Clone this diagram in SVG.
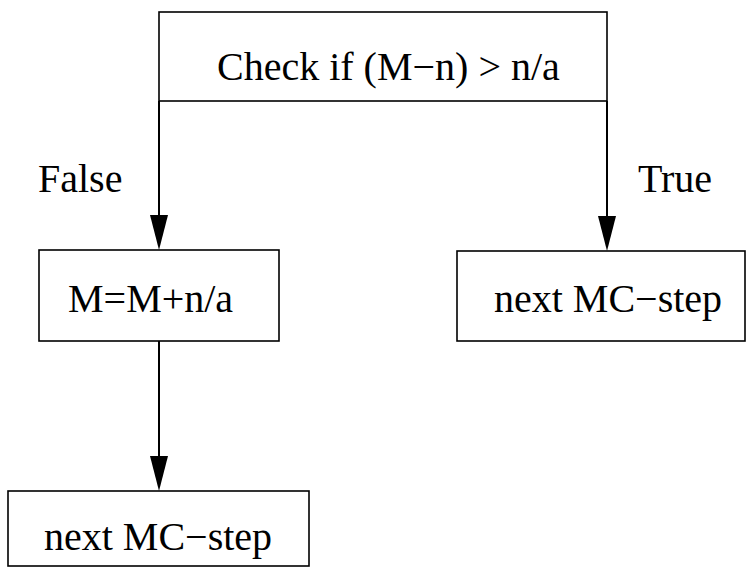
<svg xmlns="http://www.w3.org/2000/svg" width="747" height="576" viewBox="0 0 747 576" font-family="Liberation Serif, serif" style="font-family: 'Liberation Serif', serif">
  <style>
    .box { fill: #ffffff; stroke: #000000; stroke-width: 1.6; }
    .edge { stroke: #000000; stroke-width: 2; fill: none; }
    .head { fill: #000000; }
  </style>
  <rect width="747" height="576" fill="#ffffff"/>

  <g id="connectors">
    <line class="edge" x1="159" y1="101" x2="159" y2="216"/>
    <polygon class="head" points="150,215 168,215 159,250"/>
    <line class="edge" x1="607" y1="101" x2="607" y2="217"/>
    <polygon class="head" points="598,216 616,216 607,251"/>
    <line class="edge" x1="159" y1="341" x2="159" y2="457"/>
    <polygon class="head" points="150,456 168,456 159,491"/>
    <text x="38" y="192" style="font-family: 'Liberation Serif', serif; font-size: 40px">False</text>
    <text x="638" y="192" style="font-family: 'Liberation Serif', serif; font-size: 40px">True</text>
  </g>

  <g id="check">
    <rect class="box" x="159" y="12" width="448" height="89"/>
    <text x="217" y="80" style="font-family: 'Liberation Serif', serif; font-size: 40px">Check if (M&#8722;n) &#62; n/a</text>
  </g>

  <g id="increment">
    <rect class="box" x="39" y="250" width="240" height="91"/>
    <text x="68" y="312" style="font-family: 'Liberation Serif', serif; font-size: 40px">M=M+n/a</text>
  </g>

  <g id="next-true">
    <rect class="box" x="457" y="251" width="288" height="90"/>
    <text x="494" y="312" style="font-family: 'Liberation Serif', serif; font-size: 40px">next MC&#8722;step</text>
  </g>

  <g id="next-false">
    <rect class="box" x="8" y="491" width="301" height="75"/>
    <text x="44" y="550" style="font-family: 'Liberation Serif', serif; font-size: 40px">next MC&#8722;step</text>
  </g>
</svg>
